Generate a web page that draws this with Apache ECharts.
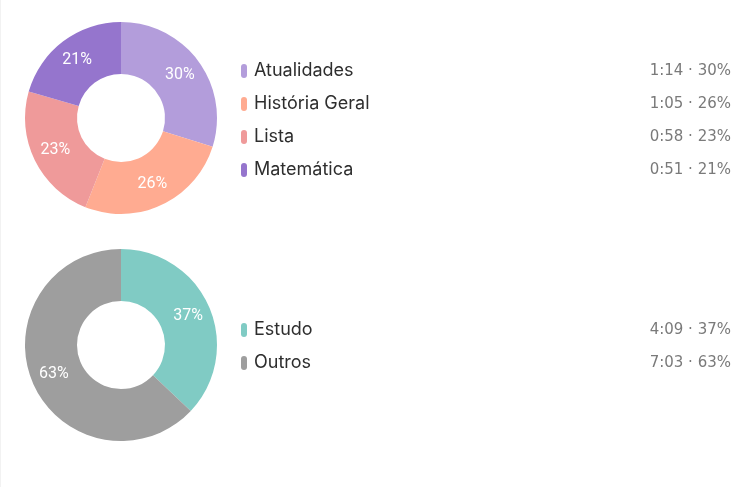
<!DOCTYPE html>
<html>
<head>
<meta charset="utf-8">
<script src="https://cdn.jsdelivr.net/npm/echarts@6/dist/echarts.min.js"></script>
<style>
html,body{margin:0;padding:0;background:#fff;}
#c{width:747px;height:487px;border-left:1px solid #f2f2f2;box-sizing:border-box;}
</style>
</head>
<body>
<div id="c"></div>
<script>
// Data
const subjectNames = ['Atualidades', 'História Geral', 'Lista', 'Matemática'];
const subjectSeconds = [74, 65, 58, 51];
const subjectColors = ['#b39ddb', '#ffab91', '#ef9a9a', '#9575cd'];

const splitNames = ['Estudo', 'Outros'];
const splitSeconds = [249, 423];
const splitColors = ['#80cbc4', '#9e9e9e'];

const FONT = 'Inter, "Noto Sans", sans-serif';
const NUMFONT = '"DejaVu Sans", Roboto, sans-serif';
const PIEFONT = 'Roboto, Inter, sans-serif';
const ICON = 'path://M3,0 A3,3 0 0 1 6,3 L6,11 A3,3 0 0 1 3,14 A3,3 0 0 1 0,11 L0,3 A3,3 0 0 1 3,0 Z';

function fmtTime(s) {
  const m = Math.floor(s / 60), r = s % 60;
  return m + ':' + (r < 10 ? '0' : '') + r;
}
function buildData(names, secs) {
  return names.map((n, i) => ({ name: n, value: secs[i] }));
}
function legendFormatter(names, secs) {
  const total = secs.reduce((a, b) => a + b, 0);
  return function (name) {
    const i = names.indexOf(name);
    const pct = Math.round(secs[i] / total * 100);
    return '{n|' + name + '}{v|' + fmtTime(secs[i]) + ' · ' + pct + '%}';
  };
}
const rich = {
  n: { fontFamily: FONT, fontSize: 18, color: '#2e2e2e', width: 380, lineHeight: 20, padding: [0, 0, 0, 2] },
  v: { fontFamily: NUMFONT, fontSize: 15, color: '#7a7a7a', width: 97, align: 'right', lineHeight: 20 }
};

function pieSeries(names, secs, colors, centerY) {
  return {
    type: 'pie',
    center: [120, centerY],
    radius: [44, 96],
    startAngle: 90,
    clockwise: true,
    avoidLabelOverlap: false,
    silent: true,
    label: {
      show: true,
      position: 'inside',
      formatter: p => Math.round(p.percent) + '%',
      color: '#ffffff',
      fontFamily: PIEFONT,
      fontSize: 16
    },
    labelLine: { show: false },
    itemStyle: { borderWidth: 0 },
    data: buildData(names, secs).map((d, i) => ({ ...d, itemStyle: { color: colors[i] } }))
  };
}

function legendFor(names, colors, secs, top) {
  return {
    orient: 'vertical',
    left: 240,
    top: top,
    padding: 0,
    itemWidth: 6,
    itemHeight: 14,
    itemGap: 13,
    icon: ICON,
    selectedMode: false,
    data: names.map((n, i) => ({ name: n, itemStyle: { color: colors[i] } })),
    formatter: legendFormatter(names, secs),
    textStyle: { lineHeight: 20, fontSize: 18, rich: rich }
  };
}

const chart = echarts.init(document.getElementById('c'), null, { renderer: 'canvas' });
chart.setOption({
  animation: false,
  backgroundColor: '#ffffff',
  legend: [
    legendFor(subjectNames, subjectColors, subjectSeconds, 61),
    legendFor(splitNames, splitColors, splitSeconds, 320)
  ],
  series: [
    pieSeries(subjectNames, subjectSeconds, subjectColors, 118),
    pieSeries(splitNames, splitSeconds, splitColors, 345)
  ]
});
</script>
</body>
</html>
